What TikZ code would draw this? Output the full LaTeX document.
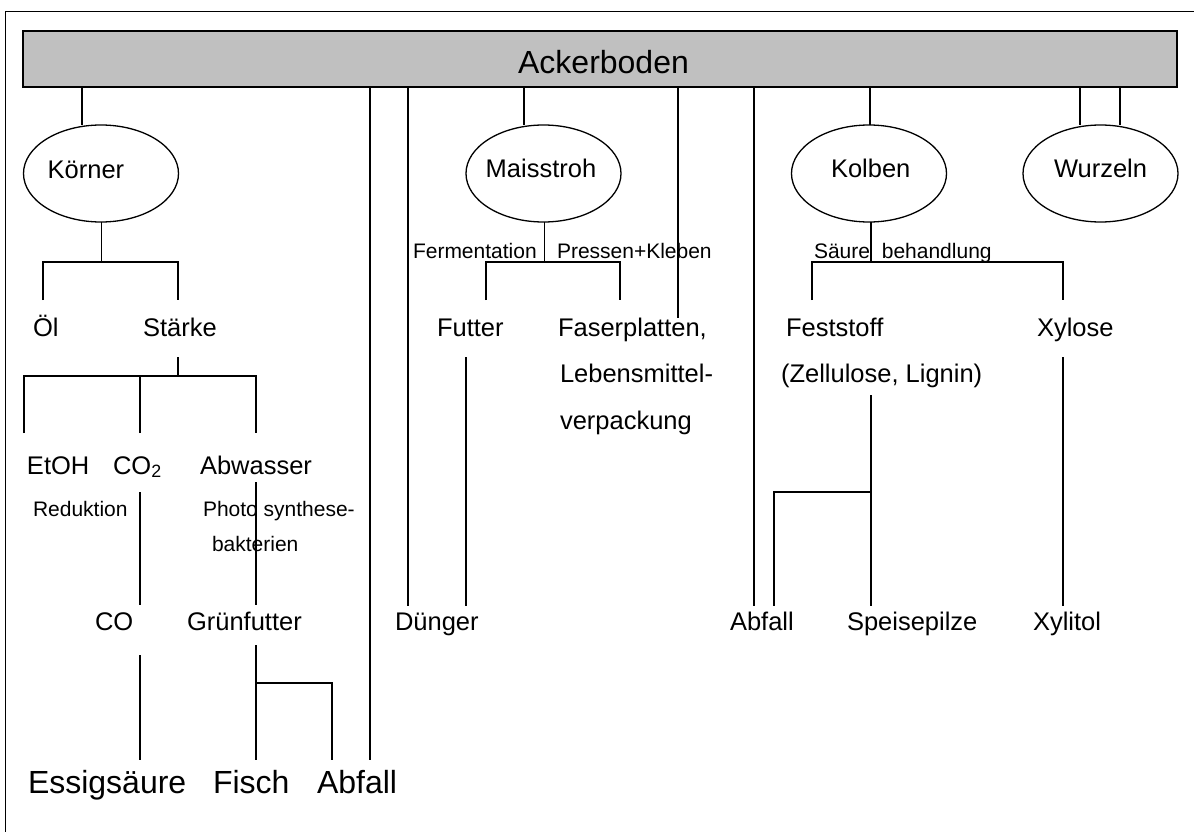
\documentclass[tikz,border=0pt]{standalone}
\usepackage{fontspec}
\setmainfont{Liberation Sans}
\usetikzlibrary{shapes.geometric}
\definecolor{barGray}{HTML}{C0C0C0}
\begin{document}
\begin{tikzpicture}[x=1pt,y=-1pt,line width=1.3pt,
  every node/.style={inner sep=0pt,outer sep=0pt},
  txt/.style={anchor=base west,font=\fontsize{25.5}{30}\selectfont},
  sml/.style={anchor=base west,font=\fontsize{21}{25}\selectfont},
  big/.style={anchor=base west,font=\fontsize{32}{38}\selectfont},
  ell/.style={draw,ellipse,minimum width=155pt,minimum height=97pt}]
\useasboundingbox (0,0) rectangle (1194,832);
\fill[white] (0,0) rectangle (1194,832);
% frame
\coordinate (fbl) at (5.7,832);
\coordinate (ftl) at (5.7,11.5);
\coordinate (ftr) at (1194,11.5);
\draw (fbl) -- (ftl) -- (ftr);
% bar
\node[draw,fill=barGray,minimum width=1154pt,minimum height=56pt] (bar) at (600,59) {};
\node[anchor=base,font=\fontsize{32}{38}\selectfont] (acker) at (603.5,74) {Ackerboden};
% ellipses
\node[ell] (koerner) at (101,173.5) {};
\node[txt] (koernerT) at (47.7,178.3) {Körner};
\node[ell] (mais) at (543.5,173.5) {};
\node[txt] (maisT) at (485.7,178) {Maisstroh};
\node[ell] (kolben) at (869,173.5) {};
\node[txt] (kolbenT) at (831,178) {Kolben};
\node[ell] (wurzeln) at (1100.5,173.5) {};
\node[txt] (wurzelnT) at (1054,178) {Wurzeln};
% texts
\node[txt] (oel) at (33,336) {Öl};
\node[txt] (staerke) at (143,336) {Stärke};
\node[txt] (etoh) at (27,474) {EtOH};
\node[txt] (co2) at (113,474) {CO\textsubscript{2}};
\node[txt] (abwasser) at (200,474) {Abwasser};
\node[sml] (redukt) at (33,516.5) {Reduktion};
\node[sml] (photo) at (203,516.5) {Photo synthese-};
\node[sml] (bakt) at (212,551.5) {bakterien};
\node[txt] (co) at (95,630) {CO};
\node[txt] (gruen) at (187,630) {Grünfutter};
\node[big] (essig) at (28,793) {Essigsäure};
\node[big] (fisch) at (213,793) {Fisch};
\node[big] (abfallA) at (317,793) {Abfall};
\node[txt] (duenger) at (395,630) {Dünger};
\node[sml] (ferm) at (413,258) {Fermentation};
\node[sml] (press) at (557,258) {Pressen+Kleben};
\node[txt] (futter) at (437,336) {Futter};
\node[txt] (faser) at (558,336) {Faserplatten,};
\node[txt] (lebens) at (560,382) {Lebensmittel-};
\node[txt] (verp) at (560,429) {verpackung};
\node[sml] (saeure) at (814,258) {Säure\hspace{6pt} behandlung};
\node[txt] (fest) at (786,336) {Feststoff};
\node[txt] (zell) at (781,382.7) {(Zellulose, Lignin)};
\node[txt] (xylose) at (1037,336) {Xylose};
\node[txt] (abfallB) at (730,630) {Abfall};
\node[txt] (speise) at (847,630) {Speisepilze};
\node[txt] (xylitol) at (1033,630) {Xylitol};
% coordinates
\coordinate (kj) at (101.7,262);
\coordinate (oelT) at (43,300);
\coordinate (stT) at (178,300);
\coordinate (stB) at (178,357);
\coordinate (sj) at (178,376);
\coordinate (etT) at (24,433);
\coordinate (coT) at (140,433);
\coordinate (abT) at (256,433);
\coordinate (co2B) at (140,492);
\coordinate (coTop) at (140,605);
\coordinate (coB) at (140,655);
\coordinate (essT) at (140,760);
\coordinate (abwB) at (256,482);
\coordinate (grT) at (256,605);
\coordinate (grB) at (256,645);
\coordinate (gj) at (256,683);
\coordinate (fiT) at (256,760);
\coordinate (abAT) at (332,760);
\coordinate (longB) at (370,760);
\coordinate (duT) at (408,606);
\coordinate (mj) at (544.3,262);
\coordinate (fuT) at (486,300);
\coordinate (faT) at (620,300);
\coordinate (fuB) at (466,357);
\coordinate (fuE) at (466,606);
\coordinate (faserE) at (678,318);
\coordinate (abBT) at (754,606);
\coordinate (kj2) at (871,262);
\coordinate (feT) at (812,300);
\coordinate (xyT) at (1063,300);
\coordinate (zeB) at (871,395);
\coordinate (zj) at (871,492);
\coordinate (spT) at (871,606);
\coordinate (ab2T) at (774,606);
\coordinate (xyB) at (1063,357);
\coordinate (xlT) at (1063,606);
% lines from bar
\draw (82,0 |- bar.south) -- (82,0 |- koerner.north);
\draw (370,0 |- bar.south) -- (longB);
\draw (408,0 |- bar.south) -- (duT);
\draw (524,0 |- bar.south) -- (524,0 |- mais.north);
\draw (678,0 |- bar.south) -- (faserE);
\draw (754,0 |- bar.south) -- (abBT);
\draw (870,0 |- bar.south) -- (870,0 |- kolben.north);
\draw (1080,0 |- bar.south) -- (1080,0 |- wurzeln.north);
\draw (1120,0 |- bar.south) -- (1120,0 |- wurzeln.north);
% Koerner branch
\draw (101.7,0 |- koerner.south) -- (kj);
\draw (oelT) -- (43,262) -- (178,262) -- (stT);
\draw (stB) -- (sj);
\draw (etT) -- (24,376) -- (256,376) -- (abT);
\draw (coT) -- (140,376);
\draw (co2B) -- (coTop);
\draw (coB) -- (essT);
\draw (abwB) -- (grT);
\draw (grB) -- (fiT);
\draw (gj) -- (332,683) -- (abAT);
% Maisstroh branch
\draw (544.3,0 |- mais.south) -- (mj);
\draw (fuT) -- (486,262) -- (620,262) -- (faT);
\draw (fuB) -- (fuE);
% Kolben branch
\draw (871,0 |- kolben.south) -- (kj2);
\draw (feT) -- (812,262) -- (1063,262) -- (xyT);
\draw (zeB) -- (spT);
\draw (zj) -- (774,492) -- (ab2T);
\draw (xyB) -- (xlT);
\end{tikzpicture}
\end{document}
